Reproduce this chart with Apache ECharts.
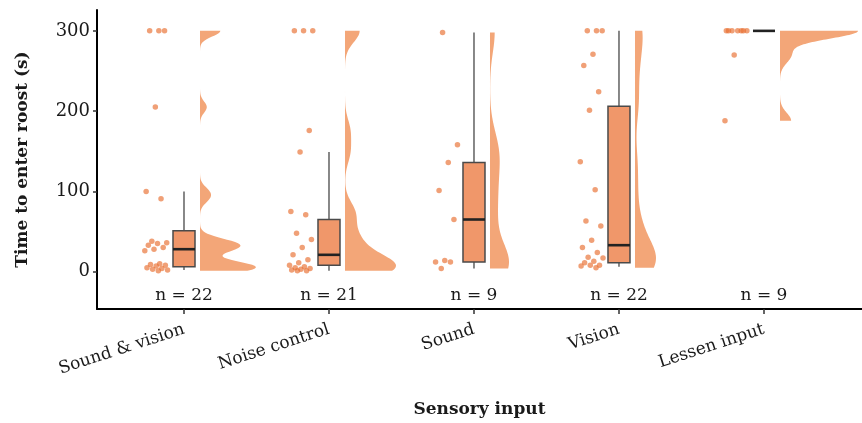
<!DOCTYPE html>
<html><head><meta charset="utf-8">
<script src="https://cdn.jsdelivr.net/npm/echarts@6/dist/echarts.min.js"></script>
<style>html,body{margin:0;padding:0;background:#fff}#c{width:862px;height:423px}</style>
</head><body><div id="c"></div>
<script>
// ---------- data ----------
const categories = ['Sound & vision', 'Noise control', 'Sound', 'Vision', 'Lessen input'];
const sampleSizes = [22, 21, 9, 22, 9];
const yTickValues = [0, 100, 200, 300];

const soundVision = [300, 300, 300, 205, 100, 91, 38, 36, 35, 33, 30, 28, 26, 10, 9, 8, 7, 5, 4, 3, 2, 1];
const noiseControl = [300, 300, 300, 176, 149, 75, 71, 48, 40, 30, 21, 15, 11, 8, 6, 5, 4, 3, 2, 1, 1];
const sound = [298, 158, 136, 101, 65, 14, 12, 12, 4];
const vision = [300, 300, 300, 271, 257, 224, 201, 137, 102, 63, 57, 39, 30, 24, 18, 17, 13, 11, 8, 8, 7, 5];
const lessenInput = [300, 300, 300, 300, 300, 300, 300, 270, 188];

// box summaries: [lower whisker, Q1, median, Q3, upper whisker]
const boxSoundVision = [2, 6, 28, 51, 100];
const boxNoiseControl = [1, 8, 21, 65, 149];
const boxSound = [4, 12, 65, 136, 298];
const boxVision = [6, 11, 33, 206, 300];
const boxLessenInput = [300, 300, 300, 300, 300];

const groups = [soundVision, noiseControl, sound, vision, lessenInput];
const boxes = [boxSoundVision, boxNoiseControl, boxSound, boxVision, boxLessenInput];

// ---------- style ----------
const bandwidths = [7, 14, 25, 22, 10];
const violinMaxPx = [56, 51, 19, 21, 78];
const violinGapPx = 16;
const boxHalfPx = 11;
const FONT = 'DejaVu Serif';
const pointColor = 'rgba(232,110,48,0.82)';
const boxFill = '#F0976A';
const violinFill = '#F3A678';

function density(vals, bw, y) {
  let s = 0;
  for (const v of vals) { const z = (y - v) / bw; s += Math.exp(-0.5 * z * z); }
  return s / (vals.length * bw * Math.sqrt(2 * Math.PI));
}

const pointData = [];
groups.forEach((vals, g) => {
  vals.forEach((v, k) => {
    const f = ((k + 1) * 0.6180339887 + g * 0.37) % 1;
    pointData.push([g - 0.193 + 0.083 * (2 * f - 1), v]);
  });
});

const chart = echarts.init(document.getElementById('c'), null, { renderer: 'canvas' });
chart.setOption({
  animation: false,
  backgroundColor: '#fff',
  grid: { left: 97, right: 0, top: 10, bottom: 111, containLabel: false },
  xAxis: {
    type: 'value', min: -0.6, max: 4.676,
    name: 'Sensory input', nameLocation: 'middle', nameGap: 92,
    nameTextStyle: { fontFamily: FONT, fontWeight: 'bold', fontSize: 17, color: '#1a1a1a' },
    axisLine: { show: true, onZero: false, lineStyle: { color: '#000', width: 2 } },
    axisTick: { show: true, customValues: [0, 1, 2, 3, 4], length: 5, lineStyle: { color: '#333', width: 1.5 } },
    axisLabel: {
      customValues: [0, 1, 2, 3, 4], rotate: 18, margin: 20,
      formatter: v => categories[Math.round(v)],
      fontFamily: FONT, fontSize: 17, color: '#1a1a1a'
    },
    splitLine: { show: false }
  },
  yAxis: {
    type: 'value', min: -46.5, max: 326,
    name: 'Time to enter roost (s)', nameLocation: 'middle', nameGap: 66,
    nameTextStyle: { fontFamily: FONT, fontWeight: 'bold', fontSize: 17, color: '#1a1a1a' },
    axisLine: { show: true, onZero: false, lineStyle: { color: '#000', width: 2 } },
    axisTick: { show: true, customValues: yTickValues, length: 4, lineStyle: { color: '#333', width: 1.5 } },
    axisLabel: { customValues: yTickValues, margin: 7, fontFamily: FONT, fontSize: 18, color: '#1a1a1a' },
    splitLine: { show: false }
  },
  series: [
    {
      type: 'custom', name: 'violin',
      data: groups.map((_, g) => [g]),
      renderItem: (params, api) => {
        const g = api.value(0);
        const vals = groups[g];
        const lo = Math.min(...vals), hi = Math.max(...vals);
        const N = 200;
        const ys = [], ds = [];
        let dmax = 0;
        for (let k = 0; k <= N; k++) {
          const y = lo + (hi - lo) * k / N;
          const d = density(vals, bandwidths[g], y);
          ys.push(y); ds.push(d); if (d > dmax) dmax = d;
        }
        const pts = [];
        for (let k = 0; k <= N; k++) {
          const p = api.coord([g, ys[k]]);
          pts.push([p[0] + violinGapPx + ds[k] / dmax * violinMaxPx[g], p[1]]);
        }
        const top = api.coord([g, hi]), bot = api.coord([g, lo]);
        pts.push([top[0] + violinGapPx, top[1]]);
        pts.push([bot[0] + violinGapPx, bot[1]]);
        return { type: 'polygon', shape: { points: pts }, style: { fill: violinFill } };
      },
      z: 1
    },
    {
      type: 'scatter', name: 'points', data: pointData, symbolSize: 5.5,
      itemStyle: { color: pointColor }, z: 2
    },
    {
      type: 'custom', name: 'box',
      data: boxes.map((b, g) => [g, ...b]),
      renderItem: (params, api) => {
        const g = api.value(0);
        const lo = api.value(1), q1 = api.value(2), md = api.value(3), q3 = api.value(4), hi = api.value(5);
        const x = api.coord([g, md])[0];
        const yLo = api.coord([g, lo])[1], yQ1 = api.coord([g, q1])[1], yMd = api.coord([g, md])[1];
        const yQ3 = api.coord([g, q3])[1], yHi = api.coord([g, hi])[1];
        const ws = { stroke: '#555', lineWidth: 1.4 };
        return {
          type: 'group', children: [
            { type: 'line', shape: { x1: x, y1: yLo, x2: x, y2: yQ1 }, style: ws },
            { type: 'line', shape: { x1: x, y1: yQ3, x2: x, y2: yHi }, style: ws },
            { type: 'rect', shape: { x: x - boxHalfPx, y: yQ3, width: 2 * boxHalfPx, height: yQ1 - yQ3 },
              style: { fill: boxFill, stroke: '#4a4a4a', lineWidth: 1.5 } },
            { type: 'line', shape: { x1: x - boxHalfPx, y1: yMd, x2: x + boxHalfPx, y2: yMd },
              style: { stroke: '#222', lineWidth: 2.6 } }
          ]
        };
      },
      z: 3
    },
    {
      type: 'custom', name: 'n',
      data: sampleSizes.map((n, g) => [g, -30, n]),
      renderItem: (params, api) => {
        const p = api.coord([api.value(0), api.value(1)]);
        return {
          type: 'text', x: p[0], y: p[1],
          style: { text: 'n = ' + api.value(2), fontFamily: FONT, fontSize: 17, fill: '#1a1a1a',
                   align: 'center', verticalAlign: 'middle', textAlign: 'center', textVerticalAlign: 'middle' }
        };
      },
      z: 4
    }
  ]
});
</script></body></html>
